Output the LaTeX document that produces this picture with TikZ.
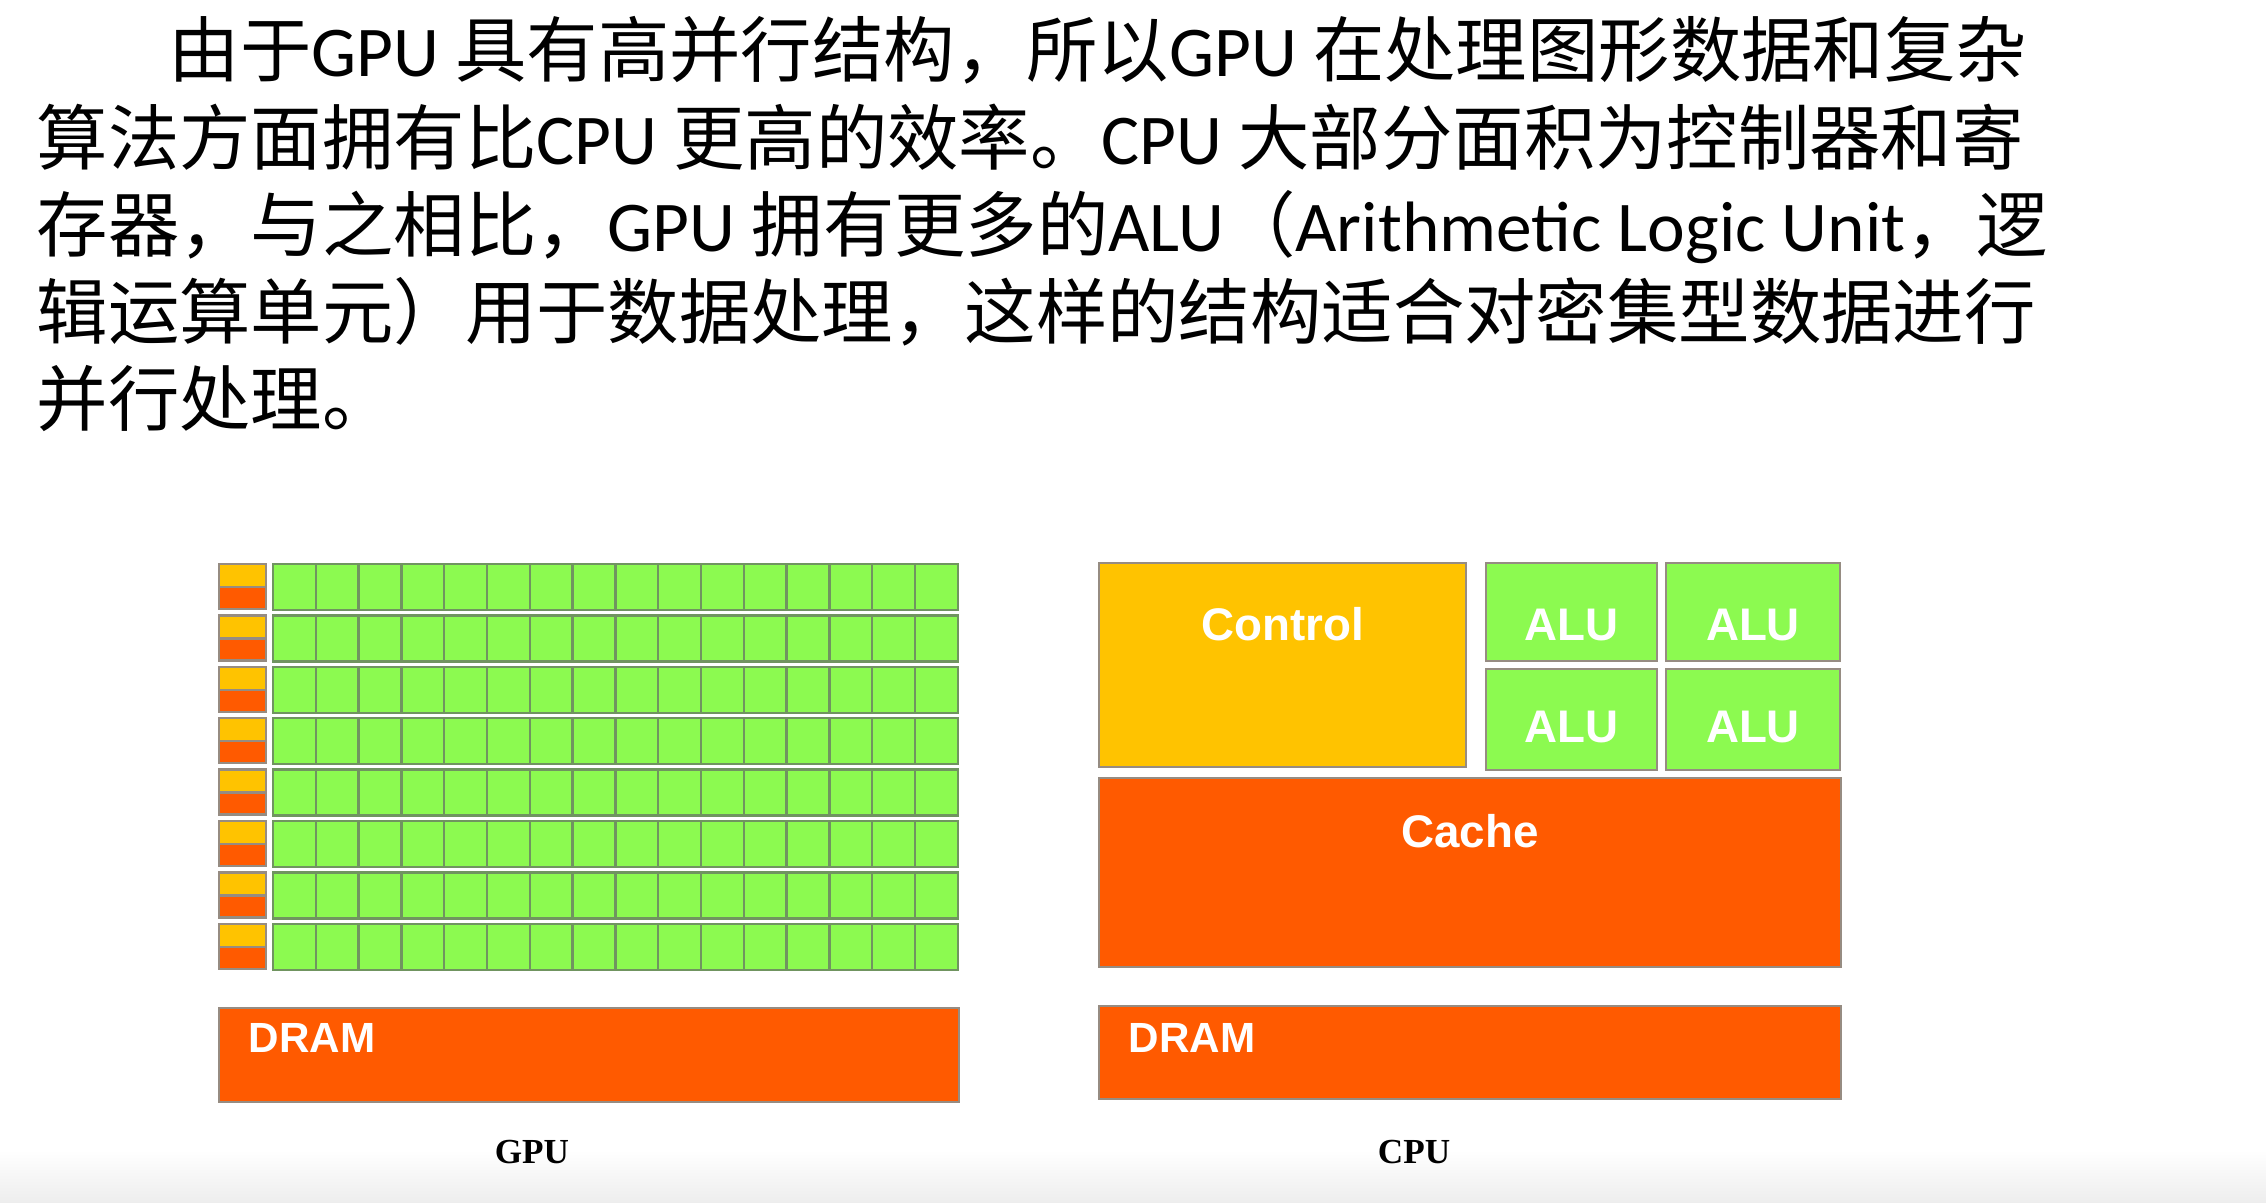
\documentclass[tikz,border=0pt]{standalone}
\usepackage{fontspec}
\setmainfont{Liberation Serif}
\newfontfamily\cjk{Noto Sans CJK SC}
\newfontfamily\lat{Carlito}
\newfontfamily\arialf{Liberation Sans}
\newcommand{\en}[1]{{\lat #1}}

\definecolor{alugreen}{RGB}{140,250,80}
\definecolor{gridline}{RGB}{112,148,96}
\definecolor{ctrlyellow}{RGB}{255,195,0}
\definecolor{cacheorange}{RGB}{255,90,0}
\definecolor{boxline}{RGB}{150,140,130}

\tikzset{
  txtline/.style={anchor=base west,inner sep=0pt,font=\cjk\fontsize{20.3}{24}\selectfont},
  unit/.style={draw=boxline,line width=0.7pt,inner sep=0pt,outer sep=0pt},
  cell/.style={draw=gridline,line width=0.7pt,fill=alugreen},
  lbl/.style={anchor=base,inner sep=0pt,text=white,font=\arialf\bfseries\fontsize{13}{15}\selectfont},
  dramlbl/.style={anchor=base west,inner sep=0pt,text=white,font=\arialf\bfseries\fontsize{12}{14}\selectfont},
  chiplbl/.style={anchor=base,inner sep=0pt,font=\bfseries\fontsize{10}{12}\selectfont}
}

\begin{document}
\begin{tikzpicture}[x=0.01cm,y=-0.01cm]
  \useasboundingbox (0,0) rectangle (2266,1203);
  \shade[top color=white,bottom color=black!7] (0,1150) rectangle (2266,1203);

  % text above
  \node[txtline] (l1) at (168,77) {由于\en{GPU }具有高并行结构，所以\en{GPU }在处理图形数据和复杂};
  \node[txtline] (l2) at (36,164) {算法方面拥有比\en{CPU }更高的效率。\en{CPU }大部分面积为控制器和寄};
  \node[txtline] (l3) at (36,251) {存器，与之相比，\en{GPU }拥有更多的\en{ALU}（\en{Arithmetic Logic Unit}，逻};
  \node[txtline] (l4) at (36,338) {辑运算单元）用于数据处理，这样的结构适合对密集型数据进行};
  \node[txtline] (l5) at (36,425) {并行处理。};

  % GPU
  \foreach \r in {0,...,7} {
    \draw[unit,fill=ctrlyellow] (219,{564+51.4*\r}) rectangle (266,{587+51.4*\r});
    \draw[unit,fill=cacheorange] (219,{587+51.4*\r}) rectangle (266,{609+51.4*\r});
    \foreach \c in {0,...,15}
      \draw[cell] ({273+42.8*\c},{564+51.4*\r}) rectangle ({273+42.8*(\c+1)},{610+51.4*\r});
  }
  \node[unit,fill=cacheorange,minimum width=7.40cm,minimum height=0.94cm] (gdram) at (589,1055) {};
  \node[dramlbl] (gdramt) at (248,1052) {DRAM};
  \node[chiplbl] (gpu) at (532,1163) {GPU};

  % CPU
  \node[unit,fill=ctrlyellow,minimum width=3.67cm,minimum height=2.04cm] (ctrl) at (1282.5,665) {};
  \node[unit,fill=alugreen,minimum width=1.71cm,minimum height=0.98cm] (alua) at (1571.5,612) {};
  \node[unit,fill=alugreen,minimum width=1.74cm,minimum height=0.98cm] (alub) at (1753,612) {};
  \node[unit,fill=alugreen,minimum width=1.71cm,minimum height=1.01cm] (aluc) at (1571.5,719.5) {};
  \node[unit,fill=alugreen,minimum width=1.74cm,minimum height=1.01cm] (alud) at (1753,719.5) {};
  \node[unit,fill=cacheorange,minimum width=7.42cm,minimum height=1.89cm] (cache) at (1470,872.5) {};
  \node[unit,fill=cacheorange,minimum width=7.42cm,minimum height=0.93cm] (cdram) at (1470,1052.5) {};

  \node[lbl] (ctrlt) at (1282.5,640) {Control};
  \node[lbl] (aluat) at (1571.5,640) {ALU};
  \node[lbl] (alubt) at (1753,640) {ALU};
  \node[lbl] (aluct) at (1571.5,742) {ALU};
  \node[lbl] (aludt) at (1753,742) {ALU};
  \node[lbl] (cachet) at (1470,847) {Cache};
  \node[dramlbl] (cdramt) at (1128,1052) {DRAM};
  \node[chiplbl] (cpu) at (1414,1163) {CPU};
\end{tikzpicture}
\end{document}
